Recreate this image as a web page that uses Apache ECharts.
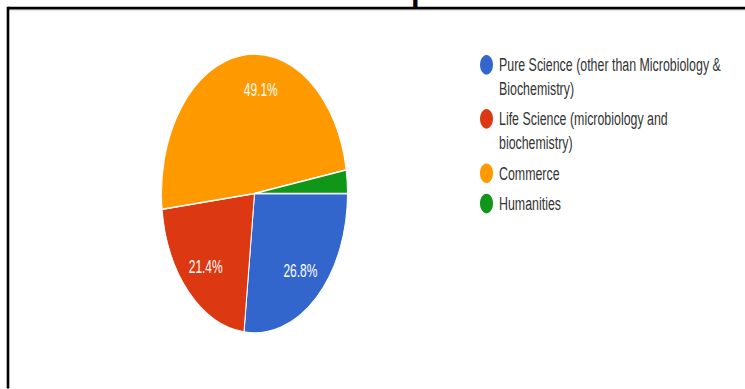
<!DOCTYPE html>
<html>
<head>
<meta charset="utf-8">
<script src="https://cdn.jsdelivr.net/npm/echarts@6/dist/echarts.min.js"></script>
<style>
  html, body { margin: 0; padding: 0; background: #fff; overflow: hidden; }
  #wrap { width: 745px; height: 389px; position: relative; overflow: hidden; }
  #chart { width: 745px; height: 259.333px; position: absolute; left: 0; top: 0;
           transform: scaleY(1.5); transform-origin: 0 0; }
</style>
</head>
<body>
<div id="wrap"><div id="chart"></div></div>
<script>
var titleText = 'Name of Department';
var categories = [
  'Pure Science (other than Microbiology & Biochemistry)',
  'Life Science (microbiology and biochemistry)',
  'Commerce',
  'Humanities'
];
// wrapped legend labels (leading blank line keeps the marker level with the first line)
var legendLabels = [
  '\nPure Science (other than Microbiology &\nBiochemistry)',
  '\nLife Science (microbiology and\nbiochemistry)',
  'Commerce',
  'Humanities'
];
var values = [26.8, 21.4, 49.1, 2.7];
var colors = ['#3366cc', '#dc3912', '#ff9900', '#109618'];

var chart = echarts.init(document.getElementById('chart'), null, { renderer: 'svg' });

var pieData = categories.map(function (c, i) {
  return { name: c, value: values[i], itemStyle: { color: colors[i] } };
});
var labelData = categories.map(function (c, i) {
  return { name: c, value: values[i], label: { show: values[i] >= 5 } };
});

var fontFam = '"Liberation Sans", Arial, sans-serif';
var legendText = { fontFamily: fontFam, fontSize: 12.4, color: '#333', lineHeight: 15.5 };
function legendFmt(n) { return legendLabels[categories.indexOf(n)]; }

chart.setOption({
  backgroundColor: 'transparent',
  animation: false,
  color: colors,
  graphic: [
    { type: 'line', z: 10, shape: { x1: 8, y1: 5.4, x2: 745, y2: 5.4 },
      style: { stroke: '#000', lineWidth: 1.8 } },
    { type: 'line', z: 10, shape: { x1: 8, y1: 4.5, x2: 8, y2: 260 },
      style: { stroke: '#000', lineWidth: 2.6 } },
    { type: 'line', z: 9, shape: { x1: 9, y1: 7.1, x2: 745, y2: 7.1 },
      style: { stroke: '#d8d8d8', lineWidth: 0.6 } },
    { type: 'text', z: 11, x: 392, y: 2.3,
      style: { text: titleText, font: 'bold 31px ' + fontFam, fill: '#000',
               textAlign: 'center', textVerticalAlign: 'bottom' } }
  ],
  legend: [
    {
      orient: 'vertical', left: 478, top: 20, padding: 0,
      itemWidth: 15, itemHeight: 15, itemGap: -10.5, icon: 'circle',
      data: [categories[0], categories[1]],
      formatter: legendFmt,
      textStyle: legendText
    },
    {
      orient: 'vertical', left: 478, top: 107, padding: 0,
      itemWidth: 15, itemHeight: 15, itemGap: 3.2, icon: 'circle',
      data: [categories[2], categories[3]],
      formatter: legendFmt,
      textStyle: legendText
    }
  ],
  series: [
    {
      type: 'pie',
      center: [254.5, 129],
      radius: [0, 93],
      startAngle: 0,
      clockwise: true,
      avoidLabelOverlap: false,
      itemStyle: { borderColor: '#fff', borderWidth: 1 },
      label: { show: false },
      labelLine: { show: false },
      emphasis: { disabled: true },
      data: pieData
    },
    {
      type: 'pie',
      center: [254.5, 129],
      radius: [39, 93],
      startAngle: 0,
      clockwise: true,
      silent: true,
      avoidLabelOverlap: false,
      itemStyle: { color: 'rgba(0,0,0,0)', borderWidth: 0 },
      label: { show: true, position: 'inside', formatter: '{d}%',
               color: '#fff', fontFamily: fontFam, fontSize: 12 },
      labelLine: { show: false },
      emphasis: { disabled: true },
      labelLayout: function (p) {
        return p.dataIndex === 2 ? { dx: 16, dy: -1 } : {};
      },
      data: labelData
    }
  ]
});
</script>
</body>
</html>
